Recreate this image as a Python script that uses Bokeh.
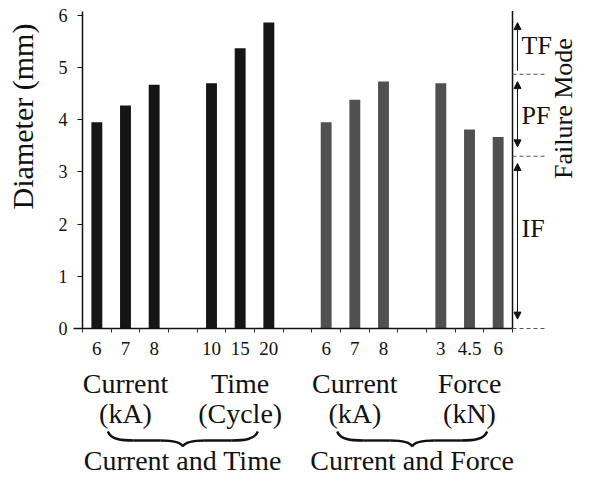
import math
from bokeh.plotting import figure
from bokeh.models import LinearAxis, FixedTicker, Range1d, Arrow, NormalHead
from bokeh.core.properties import value
from bokeh.embed import file_html
from bokeh.resources import INLINE

# ---------------- data ----------------
bar_pos = [1, 2, 3, 5, 6, 7, 9, 10, 11, 13, 14, 15]
tick_labels = ["6", "7", "8", "10", "15", "20", "6", "7", "8", "3", "4.5", "6"]
diameters = [3.95, 4.27, 4.67, 4.70, 5.37, 5.86, 3.95, 4.38, 4.73, 4.70, 3.81, 3.67]
bar_colors = ["#151515"] * 6 + ["#505050"] * 6
factor_names = ["Current", "Time", "Current", "Force"]
factor_units = ["(kA)", "(Cycle)", "(kA)", "(kN)"]
study_names = ["Current and Time", "Current and Force"]
y_ticks = [0, 1, 2, 3, 4, 5, 6]
slot_edges = [i + 0.5 for i in range(0, 16)]
mode_names = ["IF", "PF", "TF"]
mode_edges = [0, 3.30, 4.87, 6.07]
mode_label_y = [1.92, 4.09, 5.42]

# ---------------- layout helpers ----------------
W, H = 578, 476
PX_X = 28.667   # px per x unit
PX_Y = 52.2     # px per y unit
X0_PX = 82      # x = 0.5 at this pixel
Y0_PX = 328     # y = 0 at this pixel (from top)
XS = 0.5 - X0_PX / PX_X
XE = XS + W / PX_X
YE = Y0_PX / PX_Y
YS = YE - H / PX_Y


def xd(px):
    return 0.5 + (px - X0_PX) / PX_X


def yd(px):
    return (Y0_PX - px) / PX_Y


FONT = value("Liberation Serif")
INK = "#111111"

p = figure(width=W, height=H, output_backend="svg", toolbar_location=None,
           x_range=Range1d(XS, XE), y_range=Range1d(YS, YE),
           x_axis_location=None, y_axis_location=None, title=None,
           min_border=0, min_border_left=0, min_border_right=0,
           min_border_top=0, min_border_bottom=0,
           outline_line_color=None, background_fill_color="white",
           border_fill_color="white")
p.xgrid.visible = False
p.ygrid.visible = False

# bars
p.vbar(x=bar_pos, top=diameters, width=0.38, bottom=0,
       fill_color=bar_colors, line_color=None)

# y axis
yax = LinearAxis(fixed_location=0.5, bounds=(0, 6.08),
                 ticker=FixedTicker(ticks=y_ticks, minor_ticks=[]))
yax.axis_line_color = INK
yax.axis_line_width = 1.5
yax.major_tick_line_color = INK
yax.major_tick_out = 5
yax.major_tick_in = 0
yax.minor_tick_line_color = None
yax.major_label_text_font = "Liberation Serif"
yax.major_label_text_font_size = "18px"
yax.major_label_text_color = INK
yax.major_label_standoff = 10
p.add_layout(yax, "left")

# x axis
xax = LinearAxis(fixed_location=0, bounds=(0.2, 15.5),
                 ticker=FixedTicker(ticks=bar_pos, minor_ticks=slot_edges),
                 major_label_overrides={bp: lab for bp, lab in zip(bar_pos, tick_labels)})
xax.axis_line_color = INK
xax.axis_line_width = 1.5
xax.major_tick_out = 0
xax.major_tick_in = 0
xax.major_tick_line_color = None
xax.minor_tick_line_color = "#333333"
xax.minor_tick_out = 4
xax.minor_tick_in = 0
xax.major_label_text_font = "Liberation Serif"
xax.major_label_text_font_size = "19px"
xax.major_label_text_color = INK
xax.major_label_standoff = 9
p.add_layout(xax, "below")

# right boundary line
right_x = 15.5
p.segment(x0=[right_x], y0=[0], x1=[right_x], y1=[6.08], line_color=INK, line_width=1.5)

# failure-mode dashed boundaries
dash_end = xd(546)
p.segment(x0=[right_x] * 3, x1=[dash_end] * 3, y0=mode_edges[:3], y1=mode_edges[:3],
          line_color="#555555", line_width=1, line_dash="4 3")

# failure-mode arrows
arr_x = xd(517)
for i, name in enumerate(mode_names):
    lo, hi = mode_edges[i], mode_edges[i + 1]
    if name == "TF":
        a = Arrow(x_start=arr_x, y_start=lo + 0.07, x_end=arr_x, y_end=hi - 0.21,
                  start=None, end=NormalHead(size=7, fill_color=INK, line_color=INK),
                  line_color=INK, line_width=1)
    else:
        a = Arrow(x_start=arr_x, y_start=lo + 0.18, x_end=arr_x, y_end=hi - 0.14,
                  start=NormalHead(size=7, fill_color=INK, line_color=INK),
                  end=NormalHead(size=7, fill_color=INK, line_color=INK),
                  line_color=INK, line_width=1)
    p.add_layout(a)

p.text(x=[xd(521)] * 3, y=mode_label_y, text=mode_names,
       text_font=FONT, text_font_size="26px", text_color=INK,
       text_align="left", text_baseline="middle")

# rotated axis titles
p.text(x=[xd(22)], y=[yd(116)], text=["Diameter (mm)"], angle=math.pi / 2,
       text_font=FONT, text_font_size="30px", text_color=INK,
       text_align="center", text_baseline="middle")
p.text(x=[xd(563)], y=[yd(108)], text=["Failure Mode"], angle=math.pi / 2,
       text_font=FONT, text_font_size="26px", text_color=INK,
       text_align="center", text_baseline="middle")

# factor labels under each group of bars
group_centers = [sum(bar_pos[3 * g:3 * g + 3]) / 3 for g in range(4)]
p.text(x=group_centers, y=[yd(383)] * 4, text=factor_names,
       text_font=FONT, text_font_size="28px", text_color=INK,
       text_align="center", text_baseline="alphabetic")
p.text(x=group_centers, y=[yd(413)] * 4, text=factor_units,
       text_font=FONT, text_font_size="28px", text_color=INK,
       text_align="center", text_baseline="alphabetic")

# braces
study_centers = [(group_centers[0] + group_centers[1]) / 2,
                 (group_centers[2] + group_centers[3]) / 2]
tip_y = yd(446)
BW, BH, BM = 75, 15, 6   # half width, height, middle height (px)
segs = []
for c in study_centers:
    for s in (-1, 1):
        pts = [
            ((-BW, BH), (-BW + 3, BM + 1), (-BW + 14, BM), (-BW + 26, BM)),
            ((-BW + 26, BM), (-40, BM), (-30, BM), (-22, BM)),
            ((-22, BM), (-9, BM), (-2, BM - 2), (0, 0)),
        ]
        for (p0, c0, c1, p1) in pts:
            segs.append([c + s * p0[0] / PX_X, tip_y + p0[1] / PX_Y,
                         c + s * c0[0] / PX_X, tip_y + c0[1] / PX_Y,
                         c + s * c1[0] / PX_X, tip_y + c1[1] / PX_Y,
                         c + s * p1[0] / PX_X, tip_y + p1[1] / PX_Y])
p.bezier(x0=[q[0] for q in segs], y0=[q[1] for q in segs],
         cx0=[q[2] for q in segs], cy0=[q[3] for q in segs],
         cx1=[q[4] for q in segs], cy1=[q[5] for q in segs],
         x1=[q[6] for q in segs], y1=[q[7] for q in segs],
         line_color=INK, line_width=2.4)

p.text(x=study_centers, y=[yd(460)] * 2, text=study_names,
       text_font=FONT, text_font_size="28px", text_color=INK,
       text_align="center", text_baseline="alphabetic")

open("out.html", "w").write(file_html(p, INLINE))
